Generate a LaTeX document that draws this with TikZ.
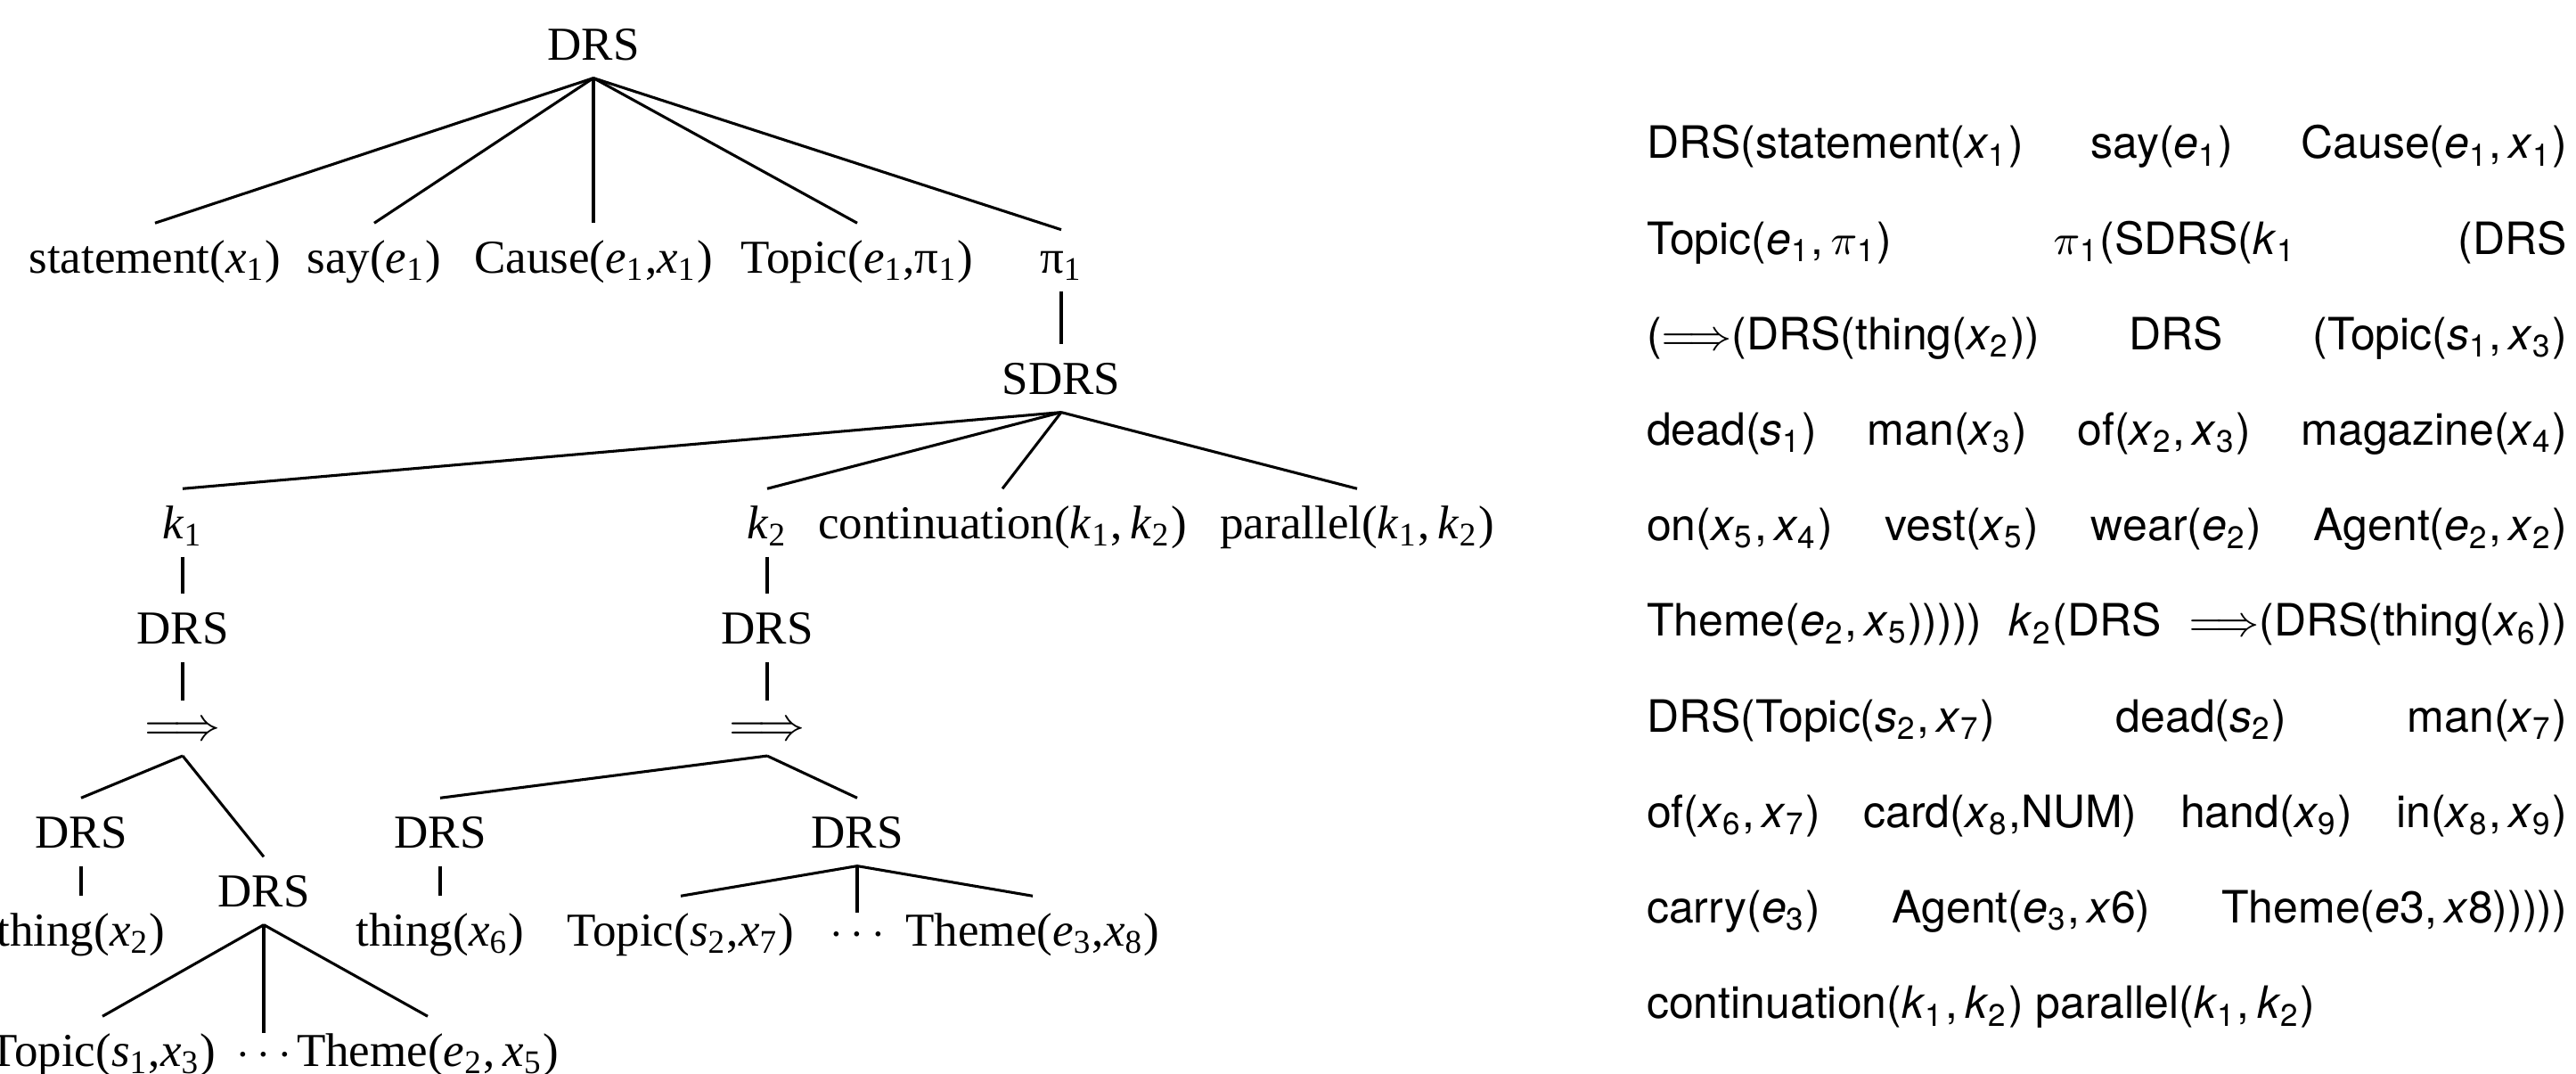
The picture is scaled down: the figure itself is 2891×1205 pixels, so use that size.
\documentclass[tikz,border=0pt]{standalone}
\usepackage{fontspec}
\setmainfont{Liberation Serif}
\newfontfamily\herosfam{TeX Gyre Heros}
\newcommand\trfont{\fontsize{10pt}{12pt}\selectfont}
\newcommand\hvfont{\herosfam\fontsize{9.43pt}{11pt}\selectfont}
\newcommand\vsub[2]{\textit{#1}\textsubscript{#2}}
\newcommand\jline[1]{\hbox to 194.9pt{#1}}
\tikzset{
  tn/.style={font=\trfont, inner xsep=0pt, inner ysep=3.5pt, text height=7pt, text depth=0pt, anchor=base},
  dotn/.style={tn, text height=3.5pt},
  impl/.style={font=\trfont, inner sep=0pt, text height=5pt, text depth=0pt, minimum height=11.32pt, anchor=center},
  rl/.style={font=\hvfont, inner sep=0pt, anchor=base west},
  edge/.style={line width=0.58pt},
}
\begin{document}
\begin{tikzpicture}[x=0.18868pt, y=-0.18868pt]
\useasboundingbox (0,0) rectangle (2891,1205);
% ---------- tree ----------
\node[tn] (root) at (666,68) {DRS};
\node[tn] (c1) at (174,307) {statement(\vsub{x}{1})};
\node[tn] (c2) at (420,307) {say(\vsub{e}{1})};
\node[tn] (c3) at (666,307) {Cause(\vsub{e}{1},\vsub{x}{1})};
\node[tn] (c4) at (962,307) {Topic(\vsub{e}{1},π\textsubscript{1})};
\node[tn, text height=5.6pt] (c5) at (1191,307) {π\textsubscript{1}};
\node[tn] (sdrs) at (1191,443) {SDRS};
\node[tn] (k1) at (205,605) {\vsub{k}{1}};
\node[tn] (k2) at (861,605) {\vsub{k}{2}};
\node[tn] (cont) at (1125,605) {continuation(\vsub{k}{1},\,\vsub{k}{2})};
\node[tn] (par) at (1523,605) {parallel(\vsub{k}{1},\,\vsub{k}{2})};
\node[tn] (d1) at (205,723) {DRS};
\node[tn] (d2) at (861,723) {DRS};
\node[impl] (i1) at (205,817) {$\Longrightarrow$};
\node[impl] (i2) at (861,817) {$\Longrightarrow$};
\node[tn] (d11) at (91,952) {DRS};
\node[tn] (d12) at (296,1018) {DRS};
\node[tn] (d21) at (494,952) {DRS};
\node[tn] (d22) at (962,952) {DRS};
\node[tn] (th2) at (91,1062) {thing(\vsub{x}{2})};
\node[tn] (th6) at (494,1062) {thing(\vsub{x}{6})};
\node[tn] (t13) at (115,1197) {Topic(\vsub{s}{1},\vsub{x}{3})};
\node[dotn] (dots1) at (296,1197) {$\cdots$};
\node[tn] (th25) at (480,1197) {Theme(\vsub{e}{2},\,\vsub{x}{5})};
\node[tn] (t27) at (764,1062) {Topic(\vsub{s}{2},\vsub{x}{7})};
\node[dotn] (dots2) at (962,1062) {$\cdots$};
\node[tn] (th38) at (1159,1062) {Theme(\vsub{e}{3},\vsub{x}{8})};
% edges
\foreach \c in {c1,c2,c3,c4,c5} \draw[edge] (root.south) -- (\c.north);
\draw[edge] (c5.south) -- (sdrs.north);
\foreach \c in {k1,k2,cont,par} \draw[edge] (sdrs.south) -- (\c.north);
\draw[edge] (k1.south) -- (d1.north);
\draw[edge] (k2.south) -- (d2.north);
\draw[edge] (d1.south) -- (i1.north);
\draw[edge] (d2.south) -- (i2.north);
\draw[edge] (i1.south) -- (d11.north);
\draw[edge] (i1.south) -- (d12.north);
\draw[edge] (i2.south) -- (d21.north);
\draw[edge] (i2.south) -- (d22.north);
\draw[edge] (d11.south) -- (th2.north);
\draw[edge] (d21.south) -- (th6.north);
\foreach \c in {t13,dots1,th25} \draw[edge] (d12.south) -- (\c.north);
\foreach \c in {t27,dots2,th38} \draw[edge] (d22.south) -- (\c.north);
% ---------- linear form ----------
\node[rl] (r1) at (1847,178) {\jline{DRS(statement(\vsub{x}{1}) \hfill say(\vsub{e}{1}) \hfill Cause(\vsub{e}{1},\,\vsub{x}{1})}};
\node[rl] (r2) at (1847,285.2) {\jline{Topic(\vsub{e}{1},\,$\pi$\textsubscript{1}) \hfill $\pi$\textsubscript{1}(SDRS(\vsub{k}{1} \hfill (DRS}};
\node[rl] (r3) at (1847,392.4) {\jline{($\Longrightarrow$(DRS(thing(\vsub{x}{2})) \hfill DRS \hfill (Topic(\vsub{s}{1},\,\vsub{x}{3})}};
\node[rl] (r4) at (1847,499.6) {\jline{dead(\vsub{s}{1}) \hfill man(\vsub{x}{3}) \hfill of(\vsub{x}{2},\,\vsub{x}{3}) \hfill magazine(\vsub{x}{4})}};
\node[rl] (r5) at (1847,606.8) {\jline{on(\vsub{x}{5},\,\vsub{x}{4}) \hfill vest(\vsub{x}{5}) \hfill wear(\vsub{e}{2}) \hfill Agent(\vsub{e}{2},\,\vsub{x}{2})}};
\node[rl] (r6) at (1847,714) {\jline{Theme(\vsub{e}{2},\,\vsub{x}{5}))))) \hfill \vsub{k}{2}(DRS \hfill $\Longrightarrow$(DRS(thing(\vsub{x}{6}))}};
\node[rl] (r7) at (1847,821.2) {\jline{DRS(Topic(\vsub{s}{2},\,\vsub{x}{7}) \hfill dead(\vsub{s}{2}) \hfill man(\vsub{x}{7})}};
\node[rl] (r8) at (1847,928.4) {\jline{of(\vsub{x}{6},\,\vsub{x}{7}) \hfill card(\vsub{x}{8},NUM) \hfill hand(\vsub{x}{9}) \hfill in(\vsub{x}{8},\,\vsub{x}{9})}};
\node[rl] (r9) at (1847,1035.6) {\jline{carry(\vsub{e}{3}) \hfill Agent(\vsub{e}{3},\,\textit{x}6) \hfill Theme(\textit{e}3,\,\textit{x}8)))))}};
\node[rl] (r10) at (1847,1142.8) {continuation(\vsub{k}{1},\,\vsub{k}{2}) parallel(\vsub{k}{1},\,\vsub{k}{2})};
\end{tikzpicture}
\end{document}
